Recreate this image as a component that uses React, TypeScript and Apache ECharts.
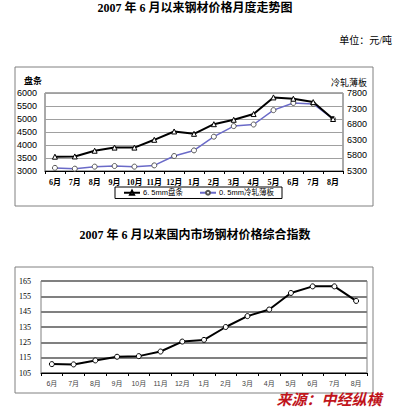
import React, { useEffect, useRef } from "react";
import * as echarts from "echarts";

const months = ["6月", "7月", "8月", "9月", "10月", "11月", "12月", "1月", "2月", "3月", "4月", "5月", "6月", "7月", "8月"];
const wireRodName = "6. 5mm盘条";
const coldRolledName = "0. 5mm冷轧薄板";
const wireRod = [3550, 3560, 3780, 3900, 3900, 4200, 4520, 4430, 4800, 4970, 5190, 5830, 5780, 5650, 5000];
const coldRolled = [5400, 5375, 5440, 5460, 5440, 5480, 5780, 5960, 6400, 6740, 6790, 7250, 7480, 7450, 6970];
const priceIndex = [110.8, 110.6, 113.2, 115.6, 116.0, 119.0, 125.5, 126.6, 135.0, 142.1, 146.4, 157.2, 161.5, 161.5, 152.0];

const title1 = "2007 年 6 月以来钢材价格月度走势图";
const title2 = "2007 年 6 月以来国内市场钢材价格综合指数";
const unitText = "单位：元/吨";
const leftAxisName = "盘条";
const rightAxisName = "冷轧薄板";
const sourceText = "来源：中经纵横";

const serif = "'Liberation Serif', 'DejaVu Serif', 'Noto Sans CJK SC', serif";
const sans = "'Liberation Sans', 'Noto Sans CJK SC', sans-serif";
const plain = (v: number) => String(v);

export default function App() {
  const ref = useRef<HTMLDivElement>(null);
  useEffect(() => {
    if (!ref.current) return;
    const chart = echarts.init(ref.current, null, { renderer: "svg" });
    chart.setOption({
      animation: false,
      backgroundColor: "#ffffff",
      grid: [
        { left: 45, top: 93, width: 298, height: 78, show: true, borderColor: "#555", borderWidth: 1, backgroundColor: "transparent" },
        { left: 41, top: 281, width: 326, height: 92, show: true, borderColor: "#808080", borderWidth: 1, backgroundColor: "transparent" },
      ],
      legend: {
        data: [wireRodName, coldRolledName],
        left: 115,
        top: 187,
        orient: "horizontal",
        itemWidth: 16,
        itemHeight: 5,
        itemGap: 16,
        padding: [2, 8, 2, 8],
        borderColor: "#000",
        borderWidth: 1,
        textStyle: { fontSize: 7.5, fontFamily: sans, color: "#000", padding: [0, 0, 0, -2] },
      },
      xAxis: [
        {
          type: "category",
          gridIndex: 0,
          data: months,
          boundaryGap: true,
          axisLine: { lineStyle: { color: "#000", width: 1 } },
          axisTick: { show: true, length: 3, lineStyle: { color: "#000" } },
          axisLabel: { fontSize: 8, fontWeight: "bold", fontFamily: serif, color: "#000", margin: 7, interval: 0 },
        },
        {
          type: "category",
          gridIndex: 1,
          data: months,
          boundaryGap: true,
          axisLine: { lineStyle: { color: "#000", width: 1 } },
          axisTick: { show: true, length: 3, lineStyle: { color: "#000" } },
          axisLabel: { fontSize: 7, fontFamily: sans, color: "#444", margin: 7, interval: 0 },
        },
      ],
      yAxis: [
        {
          type: "value",
          gridIndex: 0,
          position: "left",
          min: 3000,
          max: 6000,
          interval: 500,
          axisLine: { show: false },
          axisTick: { show: false },
          splitLine: { lineStyle: { color: "#a0a0a0", width: 1 } },
          axisLabel: { fontSize: 9, fontFamily: sans, color: "#000", margin: 8, formatter: plain },
        },
        {
          type: "value",
          gridIndex: 0,
          position: "right",
          min: 5300,
          max: 7800,
          interval: 500,
          axisLine: { show: false },
          axisTick: { show: false },
          splitLine: { show: false },
          axisLabel: { fontSize: 9, fontFamily: sans, color: "#000", margin: 4, formatter: plain },
        },
        {
          type: "value",
          gridIndex: 1,
          min: 105,
          max: 165,
          interval: 10,
          axisLine: { show: false },
          axisTick: { show: false },
          splitLine: { lineStyle: { color: "#808080", width: 2 } },
          axisLabel: { fontSize: 8, fontFamily: serif, color: "#000", margin: 10, formatter: plain },
        },
      ],
      series: [
        {
          name: wireRodName,
          type: "line",
          xAxisIndex: 0,
          yAxisIndex: 0,
          data: wireRod,
          symbol: "triangle",
          symbolSize: 5,
          lineStyle: { color: "#000", width: 2 },
          itemStyle: { color: "#fff", borderColor: "#000", borderWidth: 1 },
          z: 3,
        },
        {
          name: coldRolledName,
          type: "line",
          xAxisIndex: 0,
          yAxisIndex: 1,
          data: coldRolled,
          symbol: "circle",
          symbolSize: 5,
          lineStyle: { color: "#6a6ac8", width: 1.5 },
          itemStyle: { color: "#fff", borderColor: "#555", borderWidth: 1 },
          z: 2,
        },
        {
          name: "综合指数",
          type: "line",
          xAxisIndex: 1,
          yAxisIndex: 2,
          data: priceIndex,
          symbol: "circle",
          symbolSize: 5,
          lineStyle: { color: "#000", width: 2 },
          itemStyle: { color: "#fff", borderColor: "#000", borderWidth: 1 },
        },
      ],
      graphic: [
        { type: "rect", shape: { x: 15, y: 67, width: 358, height: 139 }, style: { fill: "none", stroke: "#808080", lineWidth: 1 }, z: 0 },
        { type: "rect", shape: { x: 15, y: 267, width: 358, height: 126 }, style: { fill: "none", stroke: "#808080", lineWidth: 1 }, z: 0 },
        { type: "text", x: 195, y: 8, style: { text: title1, fontSize: 12, fontWeight: "bold", fontFamily: serif, fill: "#000", align: "center", verticalAlign: "middle" } },
        { type: "text", x: 392, y: 40, style: { text: unitText, fontSize: 10, fontFamily: serif, fill: "#000", align: "right", verticalAlign: "middle" } },
        { type: "text", x: 33, y: 81, style: { text: leftAxisName, fontSize: 9, fontWeight: "bold", fontFamily: sans, fill: "#000", align: "center", verticalAlign: "middle" } },
        { type: "text", x: 349, y: 83, style: { text: rightAxisName, fontSize: 9, fontFamily: sans, fill: "#000", align: "center", verticalAlign: "middle" } },
        { type: "text", x: 195, y: 235, style: { text: title2, fontSize: 12, fontWeight: "bold", fontFamily: serif, fill: "#000", align: "center", verticalAlign: "middle" } },
        { type: "text", x: 329, y: 398, z: 100, style: { text: sourceText, fontSize: 15, fontWeight: "bold", fontStyle: "italic", fontFamily: "'Noto Sans CJK SC', sans-serif", fill: "#c0141b", align: "center", verticalAlign: "middle" } },
      ],
    });
    return () => chart.dispose();
  }, []);
  return <div ref={ref} style={{ position: "fixed", left: 0, top: 0, width: 394, height: 407 }} />;
}
